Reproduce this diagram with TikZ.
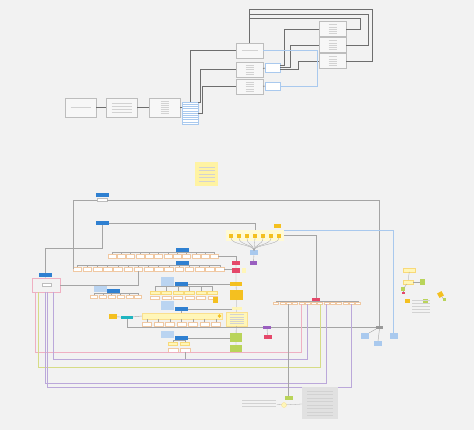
\documentclass[tikz,border=0pt]{standalone}
\usetikzlibrary{positioning}
\definecolor{bg}{HTML}{F2F2F2}
\definecolor{cardfill}{HTML}{F7F7F7}
\definecolor{boxgray}{HTML}{BDBDBD}
\definecolor{linkgray}{HTML}{6E6E6E}
\definecolor{wiregray}{HTML}{A5A5A5}
\definecolor{tagblue}{HTML}{2F80D1}
\definecolor{paleblue}{HTML}{A9C9EE}
\definecolor{gold}{HTML}{F4C020}
\definecolor{sticky}{HTML}{FFF3A3}
\definecolor{paleyel}{HTML}{FFF6B8}
\definecolor{rosered}{HTML}{E5486A}
\definecolor{violet}{HTML}{9A5FC0}
\definecolor{lime}{HTML}{B9D45A}
\definecolor{tealish}{HTML}{1FB5C0}
\definecolor{lavender}{HTML}{BBA8DA}
\definecolor{pinkline}{HTML}{EFB0C2}
\definecolor{oliveline}{HTML}{D6DC86}
\definecolor{cellline}{HTML}{F0C8A2}
\definecolor{panel}{HTML}{E1E1E1}
\tikzset{
  every node/.style={inner sep=0pt, outer sep=0pt},
  card/.style={draw=boxgray, fill=cardfill, line width=0.5pt, minimum width=27pt, minimum height=15pt},
  list/.style={draw=paleblue, fill=white, line width=0.4pt},
  tag/.style={fill=tagblue, minimum width=13pt, minimum height=4pt},
  tealtag/.style={fill=tealish, minimum width=12pt, minimum height=3.5pt},
  bluenote/.style={fill=paleblue!80, minimum width=13pt},
  tab/.style={draw=boxgray, fill=white, line width=0.3pt, minimum width=10pt, minimum height=3pt},
  cell/.style={draw=cellline, fill=white, line width=0.3pt, minimum width=8pt, minimum height=3.5pt},
  ycell/.style={draw=gold!60, fill=paleyel, line width=0.3pt, minimum width=10pt, minimum height=3pt},
  goldbox/.style={fill=gold},
  redbox/.style={fill=rosered},
  violetbox/.style={fill=violet, minimum width=8pt, minimum height=3.5pt},
  limebox/.style={fill=lime},
  memobox/.style={fill=paleyel, draw=gold!50, line width=0.3pt},
  graybox/.style={fill=gray!80, minimum width=7pt, minimum height=3pt},
  skybox/.style={fill=paleblue, minimum width=8pt, minimum height=6pt},
  person/.style={fill=gold, minimum width=4pt, minimum height=4pt},
  link/.style={draw=linkgray, line width=0.6pt},
  bluelink/.style={draw=paleblue, line width=0.6pt},
  wire/.style={draw=wiregray, line width=0.4pt},
  twig/.style={draw=wiregray, line width=0.3pt},
  scrib/.style={draw=gray!35, line width=0.35pt},
}
% n short grey strokes standing in for unreadable text
\newcommand{\txtlines}[4]{%
  \foreach \k in {1,...,#2}
    \draw[scrib] (#1.center) ++({-#3/2},{(\k-(#2+1)/2)*#4}) -- ++(#3,0);}

\begin{document}
\begin{tikzpicture}[x=1pt,y=-1pt]
\fill[bg] (0,0) rectangle (474,430);
\useasboundingbox (0,0) rectangle (474,430);

% upper flow
\node[card, minimum width=31pt, minimum height=19pt] (src) at (80.5,107.5) {};
\node[card, minimum width=31pt, minimum height=19pt] (intake) at (121.5,107.5) {};
\node[card, minimum width=31pt, minimum height=19pt] (parse) at (164.5,107.5) {};
\node[list, minimum width=16pt, minimum height=22pt] (fields) at (190,113) {};
\foreach \k in {1,...,9}
  \draw[draw=paleblue, line width=0.3pt] (fields.north west) ++(0,2.2*\k) -- ++(16,0);
\node[card] (store) at (249.5,50.5) {};
\node[card] (svcA) at (249.5,69.5) {};
\node[card] (svcB) at (249.5,86.5) {};
\node[list, minimum width=15pt, minimum height=9pt] (portsA) at (272.5,67.5) {};
\node[list, minimum width=15pt, minimum height=8pt] (portsB) at (272.5,86) {};
\node[card, minimum height=15.5pt] (outA) at (332.5,29) {};
\node[card, minimum height=15pt] (outB) at (332.5,45) {};
\node[card, minimum height=15.5pt] (outC) at (332.5,61) {};

\txtlines{src}{1}{20}{3}
\txtlines{intake}{4}{20}{3}
\txtlines{parse}{7}{8}{2}
\txtlines{store}{1}{16}{3}
\txtlines{svcA}{5}{8}{2.2}
\txtlines{svcB}{5}{8}{2.2}
\txtlines{outA}{5}{8}{2.2}
\txtlines{outB}{5}{8}{2.2}
\txtlines{outC}{5}{8}{2.2}

\draw[link] (src) -- (intake);
\draw[link] (intake) -- (parse);
\draw[link] (parse) -- (parse -| fields.west);
\draw[link] (fields.north) |- (store.west);
\draw[link] (fields.north east) -- ++(2,0) |- (svcA.west);
\draw[link] (fields.east) -- ++(4,0) |- (svcB.west);
\draw[link] (svcA) -- (portsA);
\draw[link] (svcB) -- (portsB);
\draw[link] (store.north) -- ++(0,-34) -| ([xshift=26pt]outC.east) -- (outC.east);
\draw[link] (store.north) -- ++(0,-29) -| ([xshift=22pt]outB.east) -- (outB.east);
\draw[link] (store.north) -- ++(0,-25) -| ([xshift=14pt]outA.east) -- (outA.east);
\draw[link] ([yshift=2pt]portsA.east) -- ++(4,0) |- (outA.west);
\draw[link] (portsA.east) -- ++(10,0) |- (outB.west);
\draw[link] ([yshift=-2pt]portsA.east) -- ++(18,0) |- (outC.west);
\draw[bluelink] (store.east) -- ++(54,0) |- (portsB.east);

% sticky
\node[fill=sticky, minimum width=23pt, minimum height=24pt] (memo) at (206.5,174) {};
\txtlines{memo}{5}{16}{3.5}

% lower map: headers and rows
\node[tag] (hdrA) at (102.5,195) {};
\node[tab] (hdrAtab) at (102,199.8) {};
\node[tag] (hdrB) at (102.5,223) {};
\node[tag] (grpA) at (182,250) {};
\node[tag] (grpB) at (182,263) {};
\node[tag] (side) at (45,275) {};
\node[bluenote, minimum height=6pt] (noteC) at (100,289) {};
\node[tag] (grpC) at (113.5,291.5) {};
\node[bluenote, minimum height=9pt] (noteD) at (167.5,282) {};
\node[tag] (grpD) at (181.5,284.5) {};
\node[bluenote, minimum height=9pt] (noteE) at (167.5,305.5) {};
\node[tag] (grpE) at (181.5,309.5) {};
\node[bluenote, minimum height=7pt] (noteF) at (167.5,334.5) {};
\node[tag] (grpF) at (181.5,338.5) {};

\foreach \i in {0,...,11}
  \node[cell] (rowA\i) at (112+9.3*\i,256) {};
\foreach \i in {0,...,14}
  \node[cell, minimum width=8.5pt] (rowB\i) at (77+10.2*\i,269) {};
\foreach \i in {0,...,5}
  \node[cell, minimum width=7pt, minimum height=3pt] (rowC\i) at (94+8.8*\i,296.5) {};
\foreach \i in {0,...,5} {
  \node[ycell] (rowD\i) at (155+11.5*\i,293) {};
  \node[cell, minimum width=9pt, minimum height=3pt] (rowDs\i) at (155+11.5*\i,297.5) {};
}
\node[goldbox, minimum width=5pt, minimum height=6pt] (flagD) at (215.5,300) {};
\node[memobox, minimum width=80pt, minimum height=6pt] (bandE) at (182,316) {};
\fill[gold] (bandE.east) ++(-2.5,0) circle (1.8);
\foreach \i in {0,...,6}
  \node[cell, minimum width=9pt] (rowE\i) at (147+11.5*\i,324) {};
\foreach \i in {0,1} {
  \node[ycell, minimum width=9pt] (rowF\i) at (173+12*\i,343.5) {};
  \node[cell, minimum width=10pt, minimum height=4pt] (rowFs\i) at (173+12*\i,350) {};
}
\node[goldbox, minimum width=8pt, minimum height=5pt] (entryflag) at (113,316.5) {};
\node[tealtag] (entry) at (127,317.5) {};

\foreach \i in {0,...,11} \draw[twig] (rowA\i.north) |- (grpA.south);
\foreach \i in {0,...,14} \draw[twig] (rowB\i.north) |- (grpB.south);
\foreach \i in {0,...,5} \draw[twig] (rowC\i.north) |- (grpC.south);
\foreach \i in {0,...,5} \draw[twig] (rowD\i.north) |- (grpD.south);
\foreach \i in {0,...,6} \draw[twig] (rowE\i.north) -- (rowE\i.north |- bandE.south);
\foreach \i in {0,1} \draw[twig] (rowF\i.north) |- (grpF.south);
\draw[twig] (grpE.south) -- (grpE.south |- bandE.north);
\draw[wire] (entryflag) -- (entry);
\draw[wire] (entry) -- (bandE.west);

% right-hand chain
\node[fill=paleyel!60, minimum width=58pt, minimum height=11pt] (crew) at (255,235.5) {};
\foreach \i in {0,...,6}
  \node[person] (who\i) at (231+8*\i,236) {};
\node[goldbox, minimum width=7pt, minimum height=3.5pt] (crewtag) at (277.5,226) {};
\node[skybox, minimum height=5pt] (hub) at (254,253) {};
\foreach \i in {0,...,6}
  \draw[twig] (who\i.south) .. controls +(0,7) and +(0,-6) .. (hub.north);
\node[redbox, minimum width=8pt, minimum height=4.5pt] (gateA) at (236,263) {};
\node[violetbox, minimum width=7pt, minimum height=4pt] (mixA) at (253.5,263) {};
\node[redbox, minimum width=8pt, minimum height=5pt] (gateB) at (236,270.5) {};
\node[fill=paleyel, minimum width=4pt, minimum height=5pt] (gateBflag) at (244,270.5) {};
\node[goldbox, minimum width=12pt, minimum height=4pt] (stageA) at (236,284.5) {};
\node[goldbox, minimum width=13pt, minimum height=10pt] (stageB) at (236.5,295) {};
\node[fill=paleyel, minimum width=10pt, minimum height=2.5pt] (brieftag) at (236.5,308.5) {};
\node[memobox, minimum width=21pt, minimum height=14pt] (brief) at (236.5,319) {};
\txtlines{brief}{5}{14}{2.2}
\node[limebox, minimum width=12pt, minimum height=9pt] (checkA) at (236,337.5) {};
\node[limebox, minimum width=12pt, minimum height=7pt] (checkB) at (236,348.5) {};

\draw[wire] (hub) -- (mixA);
\draw[wire] (gateA) -- (gateB) -- (stageA) -- (stageB) -- (brieftag) -- (brief) -- (checkA) -- (checkB);
\draw[wire] (rowA11.east) -| (gateA.north);
\draw[wire] (rowB14.east) -- (rowB14.east -| gateB.west);
\draw[wire] (grpD.east) -- (stageA.west);
\draw[wire] (grpE.east) -- (grpE.east -| brieftag.west);
\draw[wire] (grpF.east) -- (grpF.east -| checkA.west);

\node[redbox, minimum width=8pt, minimum height=3.5pt] (gateC) at (316,299.5) {};
\foreach \i in {0,...,13}
  \node[cell, minimum width=5pt, minimum height=2pt] (rowG\i) at (276+6.3*\i,303.5) {};
\foreach \i in {0,...,13} \draw[twig] (rowG\i.north) |- (gateC.south);
\node[violetbox] (mixB) at (267,327.5) {};
\node[redbox, minimum width=8pt, minimum height=4.5pt] (gateD) at (267.5,337) {};
\node[graybox] (relay) at (379.5,327.5) {};
\node[skybox] (sinkA) at (365,336) {};
\node[skybox, minimum height=5pt] (sinkB) at (378,343.5) {};
\node[skybox] (sinkC) at (393.5,336) {};

\draw[wire] (crew.east) -| (gateC.north);
\draw[wire] (mixB) -- (gateD);
\draw[wire] (entry.south) |- (mixB.west);
\draw[wire] (mixB.east) -- (relay.west);
\draw[wire] (hdrAtab.east) -| (relay.north);
\draw[wire] (hdrAtab.west) -| (rowB0.west);
\draw[wire] (hdrB.east) -| (crew.north);
\draw[wire] (hdrB.south) -- ++(0,23) -| (side.north);
\draw[bluelink, line width=0.4pt] (crew.north east) -| (sinkC.north);
\draw[wire] (relay.south) -- (sinkB.north);
\draw[wire] (relay.south west) -- (sinkA.north east);

% left holder and long returns
\node[draw=pinkline, line width=0.4pt, minimum width=28pt, minimum height=14pt] (hold) at (46,285) {};
\node[tab, minimum width=9pt] (holdtag) at (46.5,284.5) {};
\draw[wire] (side) -- (hold);
\draw[wire] (rowB6.south) |- (hold.east);
\draw[draw=pinkline, line width=0.5pt] ([xshift=3pt]hold.south west) -- ++(0,60) -| (rowG4.south);
\draw[draw=lavender, line width=0.5pt] ([xshift=21pt]hold.south west) -- ++(0,67) -| (rowG5.south);
\draw[draw=oliveline, line width=0.5pt] ([xshift=6pt]hold.south west) -- ++(0,75) -| (rowG7.south);
\draw[draw=lavender, line width=0.5pt] ([xshift=13pt]hold.south west) -- ++(0,91) -| (rowG8.south);
\draw[draw=lavender, line width=0.5pt] ([xshift=15pt]hold.south west) -- ++(0,95) -| (rowG12.south);
\draw[wire] (rowFs1.south) -- ++(0,7);

% far right cluster
\node[fill=paleyel, draw=gold!60, line width=0.3pt, minimum width=12pt, minimum height=4pt] (fa) at (409.5,270) {};
\node[fill=paleyel, draw=gold!60, line width=0.3pt, minimum width=10pt, minimum height=4pt] (fb) at (408,282) {};
\node[limebox, minimum width=5pt, minimum height=6pt] (fc) at (422.5,282) {};
\node[limebox, minimum width=4pt, minimum height=4pt] (fd) at (403,289.5) {};
\node[redbox, minimum width=3pt, minimum height=2pt] (fe) at (403,293) {};
\node[goldbox, minimum width=5pt, minimum height=4pt] (ff) at (407.5,301) {};
\node[limebox, minimum width=5pt, minimum height=5pt] (fg) at (425.5,301.5) {};
\node[goldbox, rotate=30, minimum width=5pt, minimum height=5pt] (fh) at (440.5,294.5) {};
\node[limebox, minimum width=3pt, minimum height=3pt] (fi) at (444,300) {};
\node[minimum width=20pt, minimum height=16pt] (fnotes) at (421,306) {};
\txtlines{fnotes}{5}{18}{3}
\draw[twig] (fa) -- (fb);
\draw[twig] (fb) -- (fc);
\draw[twig] (fb) -- (fd);
\draw[twig] (fd) -- (fe);
\draw[twig] (fh) -- (fi);

% legend
\node[fill=panel, minimum width=36pt, minimum height=32pt] (legend) at (320,403) {};
\txtlines{legend}{8}{26}{3.5}
\node[limebox, minimum width=8pt, minimum height=3.5pt] (start) at (288.6,398) {};
\node[circle, fill=paleyel, draw=gold!50, line width=0.3pt, minimum size=5pt] (pin) at (284,405) {};
\node[minimum width=36pt, minimum height=8pt] (caption) at (259,403) {};
\txtlines{caption}{3}{34}{2.8}
\draw[wire] (start.north) -- (rowG2.south);
\draw[twig] (pin) -- (caption);
\draw[twig] (pin) -- (legend);
\end{tikzpicture}
\end{document}
